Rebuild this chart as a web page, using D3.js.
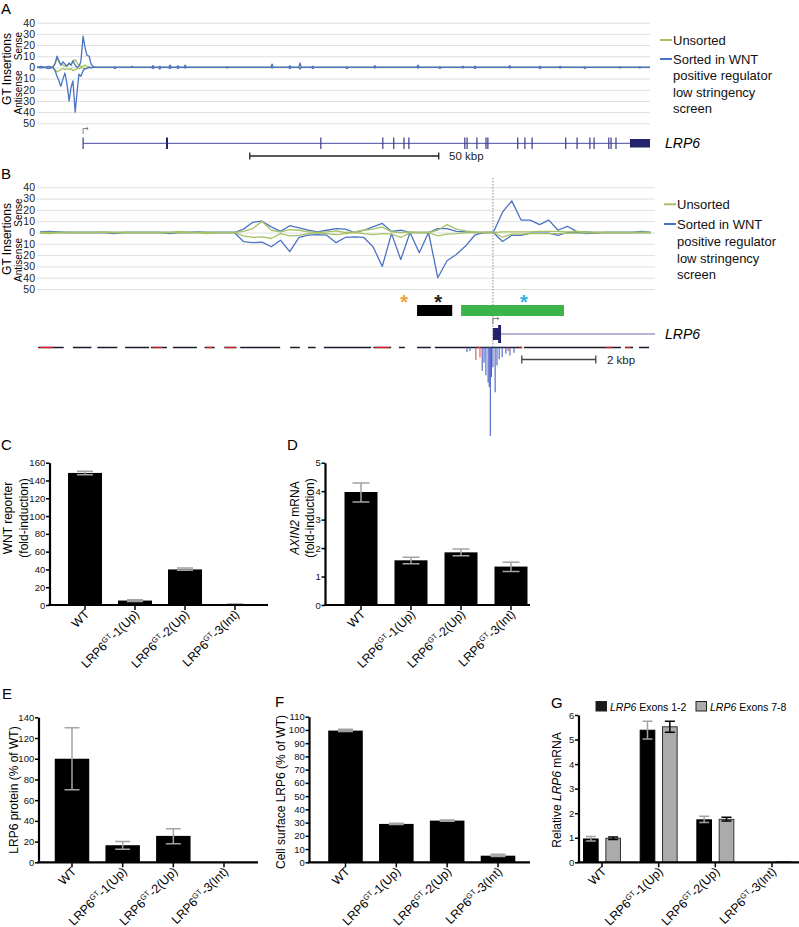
<!DOCTYPE html>
<html><head><meta charset="utf-8">
<script src="https://cdn.jsdelivr.net/npm/d3@7"></script>
<style>body{margin:0;background:#fff}svg{display:block}text{font-family:"Liberation Sans",Arial,Helvetica,sans-serif}</style>
</head><body>
<svg id="fig" width="799" height="927"></svg>
<script>
// ---------------- DATA ----------------
const insTicks = [40,30,20,10,0,-10,-20,-30,-40,-50];
// Panel A (positions in kbp)
const aPos = [0,1,2,3,4.2,4.8,5.3,5.8,6.3,6.9,7.4,7.9,8.5,9.0,9.5,10.1,10.6,11.1,11.6,12.2,12.7,13.2,13.8,14.3,14.8,15.4,16.5];
const aSortedSense   = [0,1,0,1,0,4,10,6,2,5,3,1,4,2,6,2,0,1,5,28,18,11,10,3,1,0,0];
const aSortedAnti    = [0,0.5,0,1,0,3,8,12,17,10,5,14,30,18,12,40,22,6,8,3,1,1,0,0.5,0,0,0];
const aUnsortedSense = [0,0,0,0,0,3,8,5,3,2,1,2,3,2,5,7,4,2,1,1,2,1,0.5,0,0,0,0];
const aUnsortedAnti  = [0,0,0,0,0,2,4,3,2,1,2,1,2,1,3,2,1,1,0.5,0.5,1,0.5,0,0,0,0,0];
const aBlipPos   = [20.6,25.1,30.7,32.5,35.2,37.3,39.2,50.3,62.2,66.9,69.6,73.0,82.0,89.4,100.8,106.6,112.7,115.9,125.1,133.1,138.4,145,154.2,159.5];
const aBlipSense = [0.5,1,1.5,1,2,1.5,2,0.5,3,1.5,4,1,0.5,1.5,2,0.5,1,1,1.5,1,1,0.5,0.5,0.5];
const aBlipAnti  = [1,0,1,1.5,1,1,0.5,0.5,0.5,1,1.5,1,1,0.5,0.5,1,0.5,1,0.5,1,0.5,1,0.5,0.5];
const aEnd = 162.2;
const aTSS = 12.2;
const aExons = [12.2,34.4,75.1,91.5,94.4,97.1,98.4,113.2,113.8,116.4,118.8,119.3,127.2,129.1,131.0,139.9,142.9,146.3,147.4,151.3,151.9,153.2];
const aUTR = [156.9,162.2];
const aScaleBar = [56.3,106.3];
// Panel B (0.25 kbp bins)
const bBinKbp = 0.25;
const bSortedSense = [0.5,1,0.5,0,0,0,0,0,0,0,0,0,0,0,0,0,0,0.5,0,0,0,0,3,9,10,5,1,6,4,2,0.5,2,3.5,3,0,2,5,8,1,2,0,0,0,3.5,3.5,1,0.5,0,0,0,18,28,11,11,7,11,2,5.5,1,0.5,0,0,0,0,0,1,0];
const bSortedAnti  = [0,0,0,0,0,0,0,0,1,0,0,0,0,0,1,0,0,0,0,0,0,0,8,9,8.5,12.6,6.8,17,4.4,2.4,1.8,2.4,9,4.4,3.8,4.4,12.6,30,1,24,0,18,0,40,25,19.5,12,2.4,0,0,8,2.5,2.5,0.5,0.5,0.5,2.5,0,0,1,0.5,0,0,0,0,0,0];
const bUnsortedSense = [0,0,0,0,0,0,0,0.5,0,0,0,0,0,0,0,1,0,0,0,0,0,0,1,3.5,10,2,0.6,2.6,2,0.6,0,0.6,1.5,0,0.6,2,3,5,0.6,0,0.5,0,0,2,7,3,1.5,0.6,0,0,0.5,0.5,0.5,0.5,1,1,1,0.5,1,0.5,0,0,0,0,0,0,0];
const bUnsortedAnti  = [0.5,1,0,0,0,0,0,0,0,0,0,0,0,0,0,0,0,0,1,0,0,0,3,4.4,3.8,5.3,1,3,2.6,1,0.3,1,1.8,1,0,1,1.8,1,1.5,4.4,0.3,0,0,3,1.5,1,0.3,0,0,0,4,1.5,1.5,1,1,1,1,0.5,0.5,0.5,0,0,0,0,0,0,0];
const bTSS = 12.24;
const bEnd = 16.62;
const starPos = [9.84,10.76,13.08];
const starColor = ['#f5a03a','#222','#2bb3e6'];
const boxStart = [10.19,11.38];
const boxEnd = [11.14,14.16];
const boxColor = ['#000','#3bb54a'];
const consStart = [-0.05,0.89,1.55,2.30,3.00,3.59,4.45,4.98,5.41,6.76,7.24,7.67,9.01,9.70,10.19,10.67,11.85,13.08,15.81,16.19];
const consEnd   = [0.64,1.39,2.09,2.95,3.43,4.24,4.72,5.31,6.49,7.02,7.45,8.95,9.49,9.86,10.56,11.85,13.03,15.70,16.03,16.46];
const consRedStart = [0.0,3.05,4.5,5.0,9.05,11.83,12.95,15.3,15.82];
const consRedEnd   = [0.35,3.3,4.65,5.3,9.45,11.9,13.03,15.45,15.95];
const spikePos = [11.54,11.62,11.78,11.89,11.95,12.0,12.05,12.11,12.14,12.17,12.20,12.24,12.30,12.35,12.41,12.49,12.59,12.65,12.70,12.81];
const spikeVal = [0.5,0.4,1.4,1.1,2.6,1.7,3.1,3.9,4.4,9.9,3.3,2.2,5.0,2.0,1.3,1.1,0.7,0.4,0.9,0.6];
const spikeRed = [0,0,1,1,0,0,0,0,0,0,0,0,0,0,0,0,0,1,0,0];
const bScaleBar = [13.02,15.02];

// Bar panels
const cats = ['WT','LRP6^GT-1(Up)','LRP6^GT-2(Up)','LRP6^GT-3(Int)'];
const cVals = [148.5,5,40,0.6], cLo = [146.5,4,39,0.3], cHi = [150.5,6,41.5,1];
const dVals = [3.97,1.57,1.85,1.35], dLo = [3.62,1.45,1.73,1.18], dHi = [4.29,1.68,1.97,1.5];
const eVals = [100,16.5,25.5,0], eLo = [70,12.5,18,0], eHi = [130,20,32.5,0];
const fVals = [99.5,29,31.5,5], fLo = [98.8,28.5,31,4.3], fHi = [100.5,29.5,32,6];
const gSeries = ['Exons 1-2','Exons 7-8'];
const g12Vals = [0.95,5.38,1.73,0], g12Lo = [0.87,5.02,1.62,0], g12Hi = [1.05,5.75,1.88,0];
const g78Vals = [0.98,5.52,1.75,0.02], g78Lo = [0.93,5.3,1.68,0], g78Hi = [1.03,5.75,1.83,0.03];
const cTicks = [0,20,40,60,80,100,120,140,160];
const dTicks = [0,1,2,3,4,5];
const eTicks = [0,20,40,60,80,100,120,140];
const fTicks = [0,10,20,30,40,50,60,70,80,90,100,110];
const gTicks = [0,1,2,3,4,5,6];

// ---------------- DRAW ----------------
const svg = d3.select('#fig');
const BLUE = '#4b73c3', GREEN = '#a6c264', GRID = '#e0e0e0', EXON = '#24246e', INTRON = '#6b6bb0';
const FONT = '"Liberation Sans",Arial,Helvetica,sans-serif';

function letter(t, x, y){
  svg.append('text').attr('x',x).attr('y',y).attr('font-size',15).text(t);
}
function rotText(x, y, size, parts){
  const t = svg.append('text').attr('transform',`translate(${x},${y}) rotate(-90)`)
    .attr('text-anchor','middle').attr('font-size',size);
  parts.forEach(p => { const s = t.append('tspan').text(p[0]); if (p[1]) s.attr('font-style','italic'); });
  return t;
}

function insertionPanel(x, y, x1, lines){
  const g = svg.append('g');
  g.append('g').attr('transform',`translate(${x.range()[0]},0)`)
    .call(d3.axisRight(y).tickValues(insTicks).tickSize(x1 - x.range()[0]).tickFormat(''))
    .call(a => { a.select('.domain').remove(); a.selectAll('line').attr('stroke',GRID).attr('stroke-width',1); });
  g.append('g').attr('transform',`translate(${x.range()[0]-1},0)`)
    .call(d3.axisLeft(y).tickValues(insTicks).tickSize(0).tickPadding(1).tickFormat(d => Math.abs(d)))
    .call(a => { a.select('.domain').remove(); a.selectAll('text').attr('font-size',10.5).attr('font-family',FONT).attr('fill','#222'); });
  const line = d3.line().x(d => x(d[0])).y(d => y(d[1]));
  lines.forEach(l => {
    g.append('path').datum(l.pts).attr('d',line).attr('fill','none')
      .attr('stroke',l.color).attr('stroke-width',1.3).attr('stroke-linejoin','round');
  });
  return g;
}
function legend(lx0, lx1, tx, rows){
  rows.forEach(r => {
    if (r.c) svg.append('line').attr('x1',lx0).attr('x2',lx1).attr('y1',r.y).attr('y2',r.y).attr('stroke',r.c).attr('stroke-width',2);
    svg.append('text').attr('x',tx).attr('y',r.y+4.6).attr('font-size',13).attr('fill','#111').text(r.t);
  });
}

// ---- Panel A ----
letter('A', 1, 14);
const xA = d3.scaleLinear().domain([0,aEnd]).range([37,650]);
const yA = d3.scaleLinear().domain([40,-50]).range([22.7,123.3]);
function buildA(main, sign, blips){
  const pts = aPos.map((p,i) => [p, sign*main[i]]);
  if (blips) aBlipPos.forEach((p,i) => { pts.push([p-0.35,0],[p,sign*blips[i]],[p+0.35,0]); });
  pts.push([aEnd,0]);
  return pts;
}
insertionPanel(xA, yA, 650, [
  {pts: buildA(aUnsortedSense, 1), color: GREEN},
  {pts: buildA(aUnsortedAnti, -1), color: GREEN},
  {pts: buildA(aSortedSense, 1, aBlipSense), color: BLUE},
  {pts: buildA(aSortedAnti, -1, aBlipAnti), color: BLUE}
]);
rotText(10.5, 69, 12, [['GT Insertions']]);
rotText(22, 46, 10, [['Sense']]);
rotText(22, 92.5, 10, [['Antisense']]);
legend(660, 672, 673, [{y:40,c:GREEN,t:'Unsorted'},{y:59,c:BLUE,t:'Sorted in WNT'},{y:75.5,t:'positive regulator'},{y:92,t:'low stringency'},{y:108.3,t:'screen'}]);
svg.append('line').attr('x1',xA(aTSS)).attr('x2',xA(aEnd)).attr('y1',143.3).attr('y2',143.3).attr('stroke',INTRON).attr('stroke-width',1.2);
svg.selectAll('.exA').data(aExons).enter().append('line')
  .attr('x1',d=>xA(d)).attr('x2',d=>xA(d)).attr('y1',137.5).attr('y2',149)
  .attr('stroke',(d,i)=> i===1 ? EXON : '#3a3a88').attr('stroke-width',(d,i)=> i===1 ? 2 : 1.2);
svg.append('rect').attr('x',xA(aUTR[0])).attr('width',xA(aUTR[1])-xA(aUTR[0])).attr('y',139).attr('height',8.5).attr('fill',EXON);
svg.append('path').attr('d',`M${xA(aTSS)},134V128.5H${xA(aTSS)+5} M${xA(aTSS)+3.3},127 L${xA(aTSS)+5},128.5 L${xA(aTSS)+3.3},130`).attr('fill','none').attr('stroke','#666').attr('stroke-width',0.8);
svg.append('text').attr('x',665).attr('y',148.3).attr('font-size',14).attr('font-style','italic').text('LRP6');
svg.append('path').attr('d',`M${xA(aScaleBar[0])},152.5V159.5M${xA(aScaleBar[0])},156H${xA(aScaleBar[1])}M${xA(aScaleBar[1])},152.5V159.5`).attr('stroke','#222').attr('stroke-width',1.3).attr('fill','none');
svg.append('text').attr('x',449).attr('y',160).attr('font-size',11.5).attr('fill','#222').text('50 kbp');

// ---- Panel B ----
letter('B', 1, 179);
const xB = d3.scaleLinear().domain([-0.081,bEnd]).range([37,655]);
const yB = d3.scaleLinear().domain([40,-50]).range([187.3,289]);
const buildB = (arr, sign) => arr.map((v,i) => [i*bBinKbp, sign*v]);
insertionPanel(xB, yB, 655, [
  {pts: buildB(bSortedSense, 1), color: BLUE},
  {pts: buildB(bSortedAnti, -1), color: BLUE},
  {pts: buildB(bUnsortedSense, 1), color: GREEN},
  {pts: buildB(bUnsortedAnti, -1), color: GREEN}
]);
rotText(10.5, 239, 12, [['GT Insertions']]);
rotText(22, 212.5, 10, [['Sense']]);
rotText(22, 260, 10, [['Antisense']]);
legend(664, 676, 677, [{y:204.3,c:GREEN,t:'Unsorted'},{y:224,c:BLUE,t:'Sorted in WNT'},{y:241.5,t:'positive regulator'},{y:258,t:'low stringency'},{y:274.3,t:'screen'}]);
svg.append('line').attr('x1',xB(bTSS)).attr('x2',xB(bTSS)).attr('y1',178).attr('y2',348).attr('stroke','#8a8a8a').attr('stroke-width',1).attr('stroke-dasharray','1.5,1.5');
starPos.forEach((p,i) => svg.append('text').attr('x',xB(p)).attr('y',308.5).attr('text-anchor','middle').attr('font-size',20).attr('font-weight','bold').attr('fill',starColor[i]).text('*'));
boxStart.forEach((s,i) => svg.append('rect').attr('x',xB(s)).attr('y',305).attr('width',xB(boxEnd[i])-xB(s)).attr('height',11).attr('fill',boxColor[i]));
svg.append('line').attr('x1',xB(bTSS)).attr('x2',xB(bEnd)).attr('y1',334).attr('y2',334).attr('stroke',INTRON).attr('stroke-width',1.2);
svg.append('rect').attr('x',xB(bTSS)).attr('y',328).attr('width',xB(12.41)-xB(bTSS)).attr('height',12).attr('fill',EXON);
svg.append('rect').attr('x',xB(12.38)).attr('y',325).attr('width',xB(12.46)-xB(12.38)).attr('height',18).attr('fill',EXON);
svg.append('path').attr('d',`M${xB(bTSS)},324V318.5H${xB(bTSS)+6} M${xB(bTSS)+4.3},317 L${xB(bTSS)+6},318.5 L${xB(bTSS)+4.3},320`).attr('fill','none').attr('stroke','#666').attr('stroke-width',0.8);
svg.append('text').attr('x',665).attr('y',339).attr('font-size',14).attr('font-style','italic').text('LRP6');
const yCons = d3.scaleLinear().domain([0,10]).range([347.5,437]);
consStart.forEach((s,i) => svg.append('line').attr('x1',xB(s)).attr('x2',xB(consEnd[i])).attr('y1',347.5).attr('y2',347.5).attr('stroke','#1a1a2a').attr('stroke-width',1.5));
consRedStart.forEach((s,i) => svg.append('line').attr('x1',xB(s)).attr('x2',xB(consRedEnd[i])).attr('y1',347.5).attr('y2',347.5).attr('stroke','#e02020').attr('stroke-width',1.3));
spikePos.forEach((p,i) => svg.append('line').attr('x1',xB(p)).attr('x2',xB(p)).attr('y1',yCons(0)).attr('y2',yCons(spikeVal[i])).attr('stroke',spikeRed[i] ? '#d9504c' : '#4a5fc8').attr('stroke-width',1.1));
svg.append('path').attr('d',`M${xB(bScaleBar[0])},355.5V363.5M${xB(bScaleBar[0])},359.5H${xB(bScaleBar[1])}M${xB(bScaleBar[1])},355.5V363.5`).attr('stroke','#444').attr('stroke-width',1.3).attr('fill','none');
svg.append('text').attr('x',607).attr('y',363.5).attr('font-size',11.5).attr('fill','#222').text('2 kbp');

// ---------------- BAR PANELS ----------------
const LABEL_FS = 12.3;
function catLabel(g, x, y, label, fs){
  const t = g.append('text').attr('transform',`translate(${x},${y}) rotate(-45)`).attr('text-anchor','end').attr('font-size',fs);
  const m = label.split('^');
  if (m.length === 1) { t.text(label); return; }
  t.append('tspan').text(m[0]);
  t.append('tspan').attr('font-size',fs*0.62).attr('dy',-fs*0.38).text(m[1].slice(0,2));
  t.append('tspan').attr('dy',fs*0.38).text(m[1].slice(2));
}
function yAxis(g, y, ax, ticks){
  g.append('g').attr('transform',`translate(${ax},0)`)
    .call(d3.axisLeft(y).tickValues(ticks).tickSize(3.5).tickSizeOuter(0).tickPadding(0.8).tickFormat(d => String(d)))
    .call(a => {
      a.select('.domain').attr('stroke-width',2.2);
      a.selectAll('.tick line').attr('stroke-width',1.5);
      a.selectAll('text').attr('font-size',9.5).attr('font-family',FONT).attr('fill','#111');
    });
}
function xAxis(g, x, y0, ax, xEnd){
  g.append('g').attr('transform',`translate(0,${y0})`)
    .call(d3.axisBottom(x).tickSize(5).tickSizeOuter(0).tickFormat(''))
    .call(a => { a.select('.domain').remove(); a.selectAll('.tick line').attr('stroke-width',1.5); });
  g.append('line').attr('x1',ax-1.1).attr('x2',xEnd).attr('y1',y0).attr('y2',y0).attr('stroke','#000').attr('stroke-width',2.2);
}
function errBar(g, cx, y1, y2, cap, color){
  g.append('path').attr('d',`M${cx},${y1}V${y2}M${cx-cap/2},${y1}H${cx+cap/2}M${cx-cap/2},${y2}H${cx+cap/2}`)
    .attr('stroke',color).attr('stroke-width',1.5).attr('fill','none');
}
function barPanel(cfg){
  const g = svg.append('g');
  const y = d3.scaleLinear().domain([0,cfg.yMax]).range([cfg.y0,cfg.yTop]);
  const step = (cfg.c1 - cfg.c0)/(cats.length - 1);
  const x = d3.scaleBand().domain(cats).range([cfg.c0 - step/2, cfg.c1 + step/2]).paddingInner(cfg.pad).paddingOuter(cfg.pad/2);
  g.selectAll('rect').data(cats).enter().append('rect')
    .attr('x',d=>x(d)).attr('width',x.bandwidth())
    .attr('y',(d,i)=>y(cfg.vals[i])).attr('height',(d,i)=>cfg.y0 - y(cfg.vals[i])).attr('fill','#000');
  cats.forEach((c,i) => { if (cfg.hi[i] > 0) errBar(g, x(c)+x.bandwidth()/2, y(cfg.hi[i]), y(cfg.lo[i]), cfg.cap, '#a3a3a3'); });
  yAxis(g, y, cfg.ax, cfg.ticks);
  xAxis(g, x, cfg.y0, cfg.ax, cfg.xEnd);
  cats.forEach(c => catLabel(g, x(c)+x.bandwidth()/2+5, cfg.y0+10, c, LABEL_FS));
}

// ---- C ----
letter('C', 1, 450);
barPanel({y0:605, yTop:462.7, yMax:160, ticks:cTicks, ax:49.5, c0:85, c1:235, pad:0.32, xEnd:268, vals:cVals, lo:cLo, hi:cHi, cap:16});
rotText(12, 518, 12, [['WNT reporter']]);
rotText(27.5, 518, 12, [['(fold-induction)']]);
// ---- D ----
letter('D', 287, 450);
barPanel({y0:605, yTop:462.7, yMax:5, ticks:dTicks, ax:325, c0:361, c1:511, pad:0.34, xEnd:530, vals:dVals, lo:dLo, hi:dHi, cap:17});
rotText(298.5, 518, 12, [['AXIN2',true],[' mRNA']]);
rotText(313.5, 518, 12, [['(fold-induction)']]);
// ---- E ----
letter('E', 2, 699);
barPanel({y0:862.3, yTop:717.3, yMax:140, ticks:eTicks, ax:38.5, c0:72, c1:224, pad:0.32, xEnd:258, vals:eVals, lo:eLo, hi:eHi, cap:15});
rotText(17.5, 790, 12, [['LRP6 protein (% of WT)']]);
// ---- F ----
letter('F', 275, 707);
barPanel({y0:862.3, yTop:716.7, yMax:110, ticks:fTicks, ax:309, c0:345.5, c1:498, pad:0.32, xEnd:530, vals:fVals, lo:fLo, hi:fHi, cap:15});
rotText(285, 792, 12, [['Cell surface LRP6 (% of WT)']]);

// ---- G ----
letter('G', 551, 708);
(function(){
  const g = svg.append('g');
  const y0 = 862.3;
  const y = d3.scaleLinear().domain([0,6]).range([y0,715]);
  const c0 = 602, c1 = 772, step = (c1-c0)/(cats.length-1);
  const x = d3.scaleBand().domain(cats).range([c0-step/2, c1+step/2]).paddingInner(0.33).paddingOuter(0.165);
  const xs = d3.scaleBand().domain(gSeries).range([0,x.bandwidth()]).paddingInner(0.3);
  const series = [
    {k:gSeries[0], vals:g12Vals, lo:g12Lo, hi:g12Hi, fill:'#000', stroke:'#000', err:'#a3a3a3'},
    {k:gSeries[1], vals:g78Vals, lo:g78Lo, hi:g78Hi, fill:'#ababab', stroke:'#333', err:'#000'}
  ];
  series.forEach(s => {
    g.selectAll(null).data(cats).enter().append('rect')
      .attr('x',d=>x(d)+xs(s.k)+0.5).attr('width',xs.bandwidth()-1)
      .attr('y',(d,i)=>y(s.vals[i])).attr('height',(d,i)=>Math.max(0,y0-y(s.vals[i])))
      .attr('fill',s.fill).attr('stroke',s.stroke).attr('stroke-width',1);
    cats.forEach((c,i) => { if (s.hi[i] > 0.05) errBar(g, x(c)+xs(s.k)+xs.bandwidth()/2, y(s.hi[i]), y(s.lo[i]), 10, s.err); });
  });
  yAxis(g, y, 578.5, gTicks);
  xAxis(g, x, y0, 578.5, 799);
  cats.forEach(c => catLabel(g, x(c)+x.bandwidth()/2+5, y0+10, c, LABEL_FS));
  const lg = svg.append('g');
  [[596,'#1a1a1a'],[696,'#ababab']].forEach((d,i) => {
    lg.append('rect').attr('x',d[0]).attr('y',701.5).attr('width',10.5).attr('height',9.5).attr('fill',d[1]).attr('stroke','#222').attr('stroke-width',1);
    const t = lg.append('text').attr('x',d[0]+14).attr('y',711).attr('font-size',10.5);
    t.append('tspan').attr('font-style','italic').text('LRP6');
    t.append('tspan').text(' ' + gSeries[i]);
  });
})();
rotText(560.5, 790, 12, [['Relative '],['LRP6',true],[' mRNA']]);
</script>
</body></html>
